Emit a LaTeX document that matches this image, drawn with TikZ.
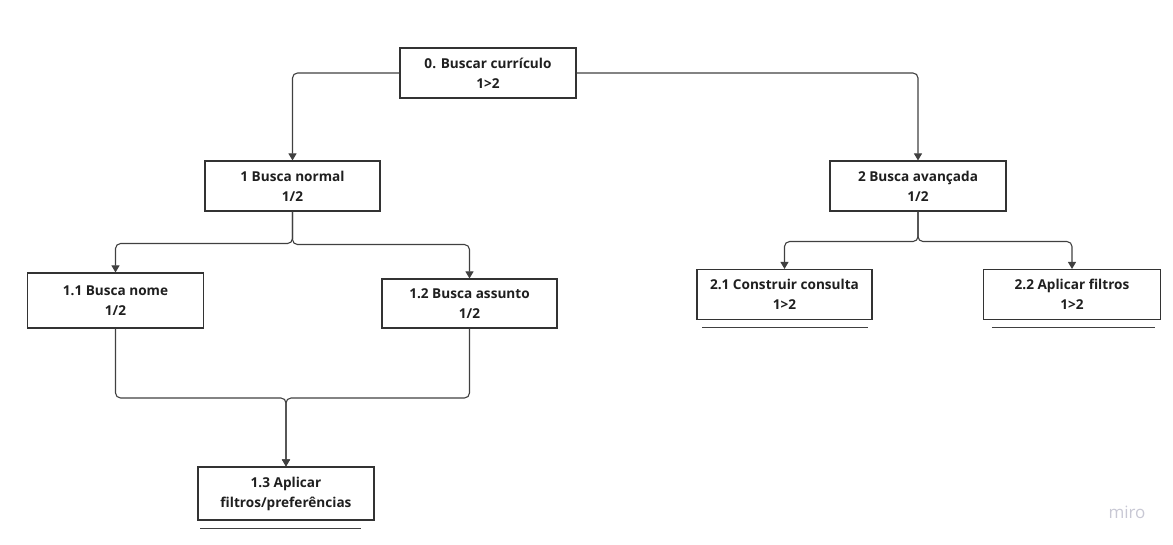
\documentclass[tikz,border=0pt]{standalone}
\usepackage{fontspec}
\setmainfont{Open Sans}
\usetikzlibrary{arrows.meta,calc}
\begin{document}
\begin{tikzpicture}[x=1pt,y=-1pt,
  box/.style={draw=black!80, line width=1.1pt, fill=white, align=center,
    font=\fontsize{13.6}{20}\selectfont\bfseries, inner sep=0pt, text=black!88},
  conn/.style={draw=black!75, line width=1.1pt, rounded corners=5pt},
  arr/.style={conn, -{Triangle[width=8pt,length=7pt]}},
  uline/.style={draw=black!75, line width=0.8pt},
  wmark/.style={font=\fontsize{17}{19}\selectfont, text={rgb,255:red,200;green,200;blue,212}}]
\useasboundingbox (0,0) rectangle (1173,545);
\node[box, minimum width=176pt, minimum height=50pt] (n0) at (488,73) {0. Buscar currículo\\1>2};
\node[box, minimum width=175pt, minimum height=50pt] (n1) at (292.5,186) {1 Busca normal\\1/2};
\node[box, minimum width=176pt, minimum height=50pt] (n2) at (918,186) {2 Busca avançada\\1/2};
\node[box, minimum width=176pt, minimum height=55pt] (n11) at (115.5,300.5) {1.1 Busca nome\\1/2};
\node[box, minimum width=175pt, minimum height=49pt] (n12) at (469.5,303.5) {1.2 Busca assunto\\1/2};
\node[box, minimum width=175pt, minimum height=50pt] (n21) at (784.5,294.5) {2.1 Construir consulta\\1>2};
\node[box, minimum width=177pt, minimum height=50pt] (n22) at (1072,294.5) {2.2 Aplicar filtros\\1>2};
\node[box, minimum width=176pt, minimum height=53pt] (n13) at (286,493.5) {1.3 Aplicar\\filtros/preferências};
\coordinate (m) at (286,398);
\draw[arr] (n0.west) -| (n1.north);
\draw[arr] (n0.east) -| (n2.north);
\draw[arr] (n1.south) -- ++(0,32) -| (n11.north);
\draw[arr] (n1.south) -- ++(0,33) -| (n12.north);
\draw[arr] (n2.south) -- ++(0,30) -| (n21.north);
\draw[arr] (n2.south) -- ++(0,30) -| (n22.north);
\draw[arr] (n11.south) |- (m) -- (n13.north);
\draw[arr] (n12.south) |- (m) -- (n13.north);
\draw[uline] ($(n21.south west)+(6,7)$) -- ($(n21.south east)+(-5,7)$);
\draw[uline] ($(n22.south west)+(9,7)$) -- ($(n22.south east)+(-6,7)$);
\draw[uline] ($(n13.south west)+(3,8)$) -- ($(n13.south east)+(-14,8)$);
\node[wmark] (wm) at (1127,512) {miro};
\end{tikzpicture}
\end{document}
